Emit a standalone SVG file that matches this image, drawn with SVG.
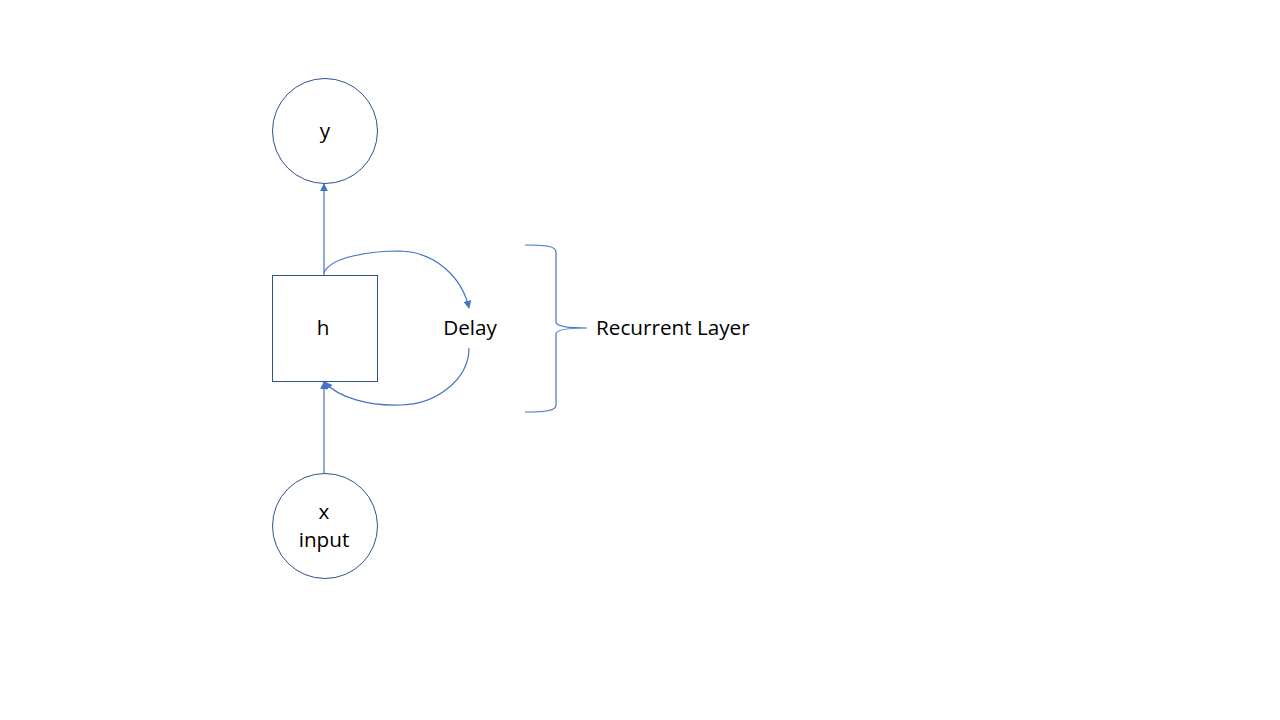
<svg xmlns="http://www.w3.org/2000/svg" width="1280" height="720" viewBox="0 0 1280 720">
<style>
.node{fill:#fff;stroke:#2f528f;stroke-width:1}
.conn{fill:none;stroke:#4472c4;stroke-width:1.2}
.t{font-family:"Open Sans","Noto Sans",sans-serif;font-size:20.7px;fill:#000;text-anchor:middle}
</style>
<defs>
<marker id="ah" viewBox="0 0 10 10" refX="9" refY="5" markerWidth="8" markerHeight="8" markerUnits="userSpaceOnUse" orient="auto">
<path d="M0,0 L10,5 L0,10 z" fill="#4472c4"/>
</marker>
</defs>
<rect width="1280" height="720" fill="#fff"/>
<g id="connectors">
<line class="conn" x1="324" y1="275" x2="324" y2="184" marker-end="url(#ah)"/>
<line class="conn" x1="324" y1="473" x2="324" y2="382" marker-end="url(#ah)"/>
<path class="conn" d="M324,273 C330,257 370,251 400,251 C435,252 462,277 469,308" marker-end="url(#ah)"/>
<path class="conn" d="M469,348 C469,380 435,405 400,405 C370,406 338,398 325,382" marker-end="url(#ah)"/>
</g>
<g id="y">
<circle class="node" cx="325" cy="131" r="52.5"/>
<text class="t" x="325" y="138">y</text>
</g>
<g id="h">
<rect class="node" x="272.5" y="275.5" width="105" height="106"/>
<text class="t" x="323" y="335">h</text>
</g>
<g id="x">
<circle class="node" cx="325" cy="526" r="52.5"/>
<text class="t" x="324" y="519">x</text>
<text class="t" x="324" y="547">input</text>
</g>
<g id="delay">
<text class="t" x="470" y="335">Delay</text>
</g>
<g id="recurrent">
<path class="conn" d="M525,245 C545,245 556,246 556,252 L556,322 C556,326 565,328 587,328 C565,328 556,330 556,334 L556,405 C556,411 545,412 525,412"/>
<text class="t" x="596" y="335" style="text-anchor:start">Recurrent Layer</text>
</g>
</svg>
